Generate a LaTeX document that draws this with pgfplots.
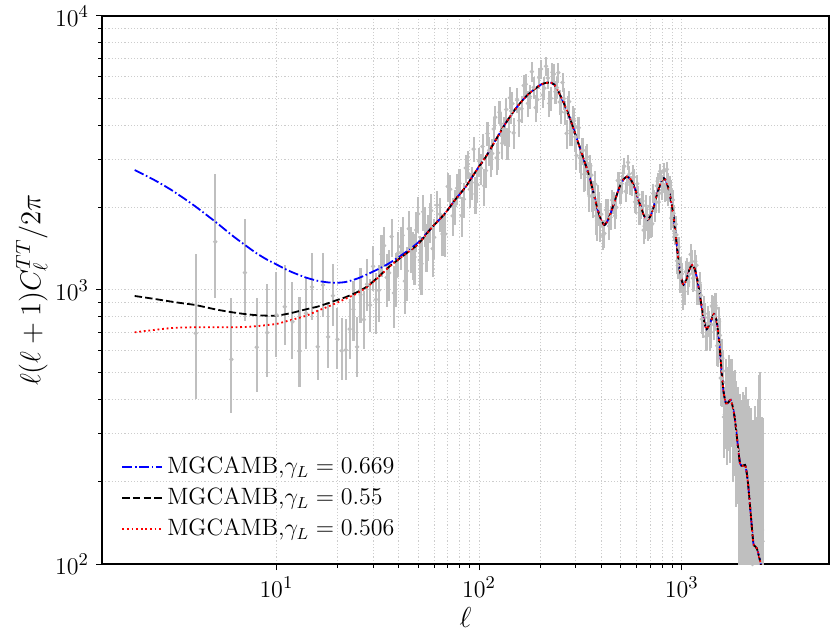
\documentclass[border=0pt]{standalone}
\usepackage{pgfplots}
\usepackage{pgfplotstable}
\pgfplotsset{compat=1.18}
\usetikzlibrary{calc}
\definecolor{datagray}{RGB}{191,191,191}
\definecolor{gridgray}{RGB}{205,205,205}

% theory curves: l, gamma=0.669 (blue), gamma=0.55 (black), gamma=0.506 (red)
\pgfplotstableread{
l blue black red
2 2742 951 701
2.5 2520 928 715
3 2330 908 726
3.5 2160 893 730
4 2014 881 731
5 1775 850 731
6 1590 830 731
7 1460 817 733
8 1360 809 738
9 1290 806 745
10 1240 806 752
11 1195 815 766
12 1160 826 780
14 1110 850 805
16 1080 870 840
18 1066 895 870
20 1063 920 900
22 1070 942 930
25 1100 982 972
28 1140 1030 1025
32 1195 1120 1115
36 1252 1216 1215
42 1350 1330 1330
50 1490 1470 1470
58 1680 1680 1680
68 1906 1906 1906
76 2130 2130 2130
86 2383 2383 2383
96 2700 2700 2700
108 3066 3066 3066
120 3500 3500 3500
135 4055 4055 4055
150 4550 4550 4550
170 5076 5076 5076
190 5450 5450 5450
205 5650 5650 5650
220 5715 5715 5715
235 5620 5620 5620
258 4930 4930 4930
280 4250 4250 4250
301 3626 3626 3626
325 3066 3066 3066
350 2592 2592 2592
370 2200 2200 2200
385 1959 1959 1959
400 1800 1800 1800
416 1727 1727 1727
435 1820 1820 1820
457 2014 2014 2014
490 2350 2350 2350
515 2530 2530 2530
536 2592 2592 2592
560 2530 2530 2530
590 2320 2320 2320
619 2072 2072 2072
650 1870 1870 1870
674 1801 1801 1801
700 1860 1860 1860
725 2000 2000 2000
749 2190 2190 2190
785 2450 2450 2450
815 2557 2557 2557
840 2480 2480 2480
865 2300 2300 2300
890 2060 2060 2060
910 1850 1850 1850
940 1500 1500 1500
970 1220 1220 1220
1000 1080 1080 1080
1020 1045 1045 1045
1050 1080 1080 1080
1090 1190 1190 1190
1125 1234 1234 1234
1160 1190 1190 1190
1200 1060 1060 1060
1250 880 880 880
1290 760 760 760
1325 719 719 719
1380 760 760 760
1440 817 817 817
1480 780 780 780
1513 695 695 695
1545 590 590 590
1573 497 497 497
1610 420 420 420
1651 386 386 386
1700 390 390 390
1742 397 397 397
1790 370 370 370
1830 335 335 335
1880 280 280 280
1936 233 233 233
1990 228 228 228
2051 230 230 230
2090 215 215 215
2129 191 191 191
2190 150 150 150
2254 119 119 119
2300 116 116 116
2344 114 114 114
2415 105 105 105
2500 93 93 93
}\theory

% measured spectrum: l, D, error plus, error minus
\pgfplotstableread{
l D ep em
4 695 658 296
5 1500 1151 567
6 558 375 203
7 1157 659 384
8 618 319 195
9 699 350 216
10 811 355 243
11 869 365 239
12 766 306 206
13 598 347 156
14 822 281 213
15 1026 342 249
16 621 224 152
17 1043 325 244
18 675 231 157
19 953 291 214
20 661 197 146
21 600 188 131
22 604 178 135
23 720 210 160
24 850 230 200
25 620 180 140
26 960 240 200
27 780 210 170
28 1050 250 210
29 880 220 180
30 1220 230 230
31 924 232 232
32 997 235 235
33 1351 237 237
34 1451 240 240
35 1111 242 242
36 1155 245 245
37 1566 247 247
38 975 250 250
39 1118 252 252
40 1367 255 255
41 1441 257 257
42 1583 260 260
43 1078 262 262
44 1174 265 265
45 1673 267 267
46 1428 270 270
47 1361 272 272
48 1320 275 275
49 1655 277 277
50 1896 280 280
51 1286 282 282
52 1246 285 285
53 1931 287 287
54 1727 290 290
55 1453 292 292
56 1576 295 295
57 1784 297 297
58 1949 300 300
59 1415 300 300
60 1557 260 260
62 2041 265 265
64 1893 270 270
66 1602 275 275
68 1601 280 280
70 2385 285 285
72 2332 290 290
74 1863 295 295
76 2024 300 300
78 2354 305 305
80 2453 310 310
82 1870 315 315
84 2144 320 320
86 2788 325 325
88 2879 330 330
90 2330 335 335
92 2467 340 340
94 3267 345 345
96 2241 350 350
98 2424 355 355
100 2951 360 360
102 2784 365 365
104 3340 370 370
106 2400 375 375
108 2729 380 380
110 3725 385 385
112 3232 390 390
114 2980 395 395
116 3149 400 400
118 3870 405 405
120 4270 410 410
122 3035 415 415
124 3167 420 420
126 4452 425 425
128 4045 430 430
130 3431 435 435
132 3851 440 440
134 3800 445 445
136 4558 450 450
138 3432 455 455
140 3780 460 460
142 5033 465 465
144 4503 470 470
146 4790 475 475
148 3746 480 480
154 4929 520 520
158 4150 520 520
162 4587 520 520
166 5578 520 520
170 5634 520 520
174 4799 520 520
178 5083 520 520
182 6266 520 520
186 5488 520 520
190 4633 520 520
194 4950 520 520
198 5949 520 520
202 6407 520 520
206 5146 520 520
210 5453 520 520
214 6555 520 520
218 5938 520 520
222 4798 520 520
226 5007 520 520
230 6232 520 520
234 6137 520 520
238 5292 520 520
242 5480 520 520
246 6218 520 520
250 4855 520 520
254 4470 450 450
258 5719 450 450
262 4992 450 450
266 4446 450 450
270 3731 450 450
274 4652 450 450
278 4870 450 450
282 3813 450 450
286 3807 450 450
290 4234 450 450
294 4153 450 450
298 3626 450 450
302 3096 360 360
306 3920 360 360
310 3910 360 360
314 3036 360 360
318 2894 360 360
322 3224 360 360
326 3233 360 360
330 2643 360 360
334 2654 360 360
338 2996 360 360
342 3058 360 360
346 2580 360 360
350 2203 280 280
354 2836 280 280
358 2624 280 280
362 2209 280 280
366 2116 280 280
370 2222 280 280
374 2434 280 280
378 1863 280 280
382 1789 280 280
386 2145 280 280
390 1995 280 280
394 1776 280 280
400 1890 190 190
408 1584 190 190
415 1609 190 190
423 1960 190 190
430 1951 190 190
438 1711 190 190
445 1843 190 190
453 2128 190 190
460 2081 190 190
468 1866 190 190
475 2002 190 190
483 2508 190 190
490 2515 190 190
498 2251 190 190
505 2445 190 190
513 2671 190 190
520 2831 190 190
528 2292 190 190
535 2435 190 190
543 2921 190 190
550 2647 190 190
558 2413 190 190
565 2400 190 190
573 2671 190 190
580 2581 190 190
588 2097 190 190
595 2088 190 190
603 2442 190 190
610 2226 180 180
618 1914 180 180
625 1989 180 180
633 2113 180 180
640 2112 180 180
648 1654 180 180
655 1711 180 180
663 2033 180 180
670 1823 180 180
678 1695 180 180
685 1720 180 180
693 2019 180 180
700 1972 180 180
708 1729 180 180
715 1746 180 180
723 2249 180 180
730 2142 180 180
738 1953 180 180
745 2095 180 180
753 2398 180 180
760 2496 180 180
768 2092 180 180
775 2256 180 180
783 2714 180 180
790 2540 180 180
798 2318 180 180
805 2443 180 180
813 2708 180 180
820 2729 180 180
828 2277 180 180
835 2300 180 180
843 2755 180 180
850 2496 180 180
858 2209 180 180
865 2277 180 180
873 2431 180 180
880 2333 180 180
888 1830 180 180
895 1860 180 180
903 2131 180 180
910 1906 130 130
918 1637 130 130
925 1587 130 130
933 1738 130 130
940 1590 130 130
948 1278 130 130
955 1229 130 130
963 1434 130 130
970 1269 130 130
978 1121 130 130
985 1106 130 130
993 1188 130 130
1000 1145 110 110
1015 956 110 110
1030 987 105 105
1045 1166 105 105
1060 1204 110 110
1075 1070 115 115
1090 1142 120 120
1105 1349 120 120
1120 1269 125 125
1135 1103 120 120
1150 1109 120 120
1165 1274 120 120
1180 1231 115 115
1195 994 110 110
1210 989 105 105
1225 1062 100 100
1240 956 95 95
1255 783 90 90
1270 753 85 85
1285 868 85 85
1300 820 80 80
1315 677 80 80
1330 684 80 80
1345 794 80 80
1360 755 80 80
1375 680 80 80
1390 701 85 85
1405 875 85 85
1420 861 90 90
1435 748 90 90
1450 799 90 90
1465 880 95 95
1480 858 110 110
1495 626 100 100
1510 635 110 110
1525 766 100 100
1540 683 110 110
1555 477 100 100
1570 475 100 100
1585 564 100 100
1600 506 100 100
1615 344 100 100
1630 352 90 90
1645 460 100 100
1660 432 90 90
1675 329 100 100
1690 349 90 90
1705 477 100 100
1720 465 95 95
1735 333 100 100
1750 363 95 95
1765 459 100 100
1780 413 95 95
1795 299 100 100
1810 305 95 95
1825 411 100 100
1840 371 95 95
1855 262 100 100
1870 261 95 95
1885 342 100 100
1900 314 100 100
1915 179 105 105
1930 189 100 100
1945 313 105 105
1960 286 110 110
1975 160 105 105
1990 178 110 110
2005 319 105 105
2020 298 115 115
2035 156 120 120
2050 196 120 120
2065 321 120 120
2080 268 120 120
2095 148 120 120
2110 152 125 125
2125 280 120 120
2140 247 130 130
2155 114 135 94
2170 130 130 110
2185 237 135 135
2200 203 140 140
2215 95 135 75
2230 100 140 80
2245 201 135 135
2260 179 150 150
2275 89 160 69
2290 94 150 74
2305 203 175 175
2320 184 160 160
2335 91 180 71
2350 96 170 76
2365 211 190 190
2380 196 180 176
2395 96 195 76
2410 240 250 220
2425 208 200 188
2440 202 300 182
2455 89 205 69
2470 107 210 87
2485 133 210 113
2500 121 220 101
}\measured

\begin{document}
\begin{tikzpicture}
\begin{axis}[
  scale only axis,
  width=363.5pt, height=274pt,
  xmode=log, ymode=log,
  xmin=1.38, xmax=5320,
  ymin=100, ymax=10000,
  xtick={10,100,1000},
  ytick={100,1000,10000},
  tick pos=left,
  tick align=outside,
  major tick length=3pt,
  minor tick length=1.8pt,
  every tick/.style={black, line width=0.5pt},
  axis line style={black, line width=0.6pt},
  grid=both,
  major grid style={gridgray, line width=0.5pt, dash pattern=on 0.6pt off 1.0pt},
  minor grid style={gridgray, line width=0.5pt, dash pattern=on 0.6pt off 1.0pt},
  tick label style={font=\fontsize{13}{15}\selectfont},
  label style={font=\fontsize{14.4}{17}\selectfont},
  xlabel={$\ell$},
  ylabel={$\ell(\ell+1)C_\ell^{TT}/2\pi$},
  xlabel style={yshift=2pt},
  ylabel style={yshift=-3pt},
  legend style={draw=none, fill=none,
    at={(0.018,0.211)}, anchor=north west,
    font=\fontsize{11.8}{13.5}\selectfont,
    row sep=1.6pt,
    legend cell align=left},
  legend image code/.code={\draw[#1] (0pt,0pt) -- (20pt,0pt);},
]
\addplot[forget plot, datagray, only marks, mark=*, mark size=0.9pt,
  error bars/.cd, y dir=both, y explicit,
  error bar style={datagray, line width=1.05pt}, error mark=none]
  table[x=l, y=D, y error plus=ep, y error minus=em]{\measured};
\addplot[color=blue, line width=0.9pt, dash pattern=on 5pt off 1.3pt on 0.8pt off 1.3pt, smooth, tension=0.4]
  table[x=l, y=blue]{\theory};
\addlegendentry{MGCAMB,$\gamma_L = 0.669$}
\addplot[color=black, line width=0.9pt, dash pattern=on 3.7pt off 1.6pt, smooth, tension=0.4]
  table[x=l, y=black]{\theory};
\addlegendentry{MGCAMB,$\gamma_L = 0.55$}
\addplot[color=red, line width=0.9pt, dash pattern=on 0.9pt off 1.4pt, smooth, tension=0.4]
  table[x=l, y=red]{\theory};
\addlegendentry{MGCAMB,$\gamma_L = 0.506$}
\end{axis}
\pgfresetboundingbox
\path[use as bounding box] ($(current axis.south west)+(-51pt,-38pt)$) rectangle ($(current axis.north east)+(0.5pt,8pt)$);
\end{tikzpicture}
\end{document}
